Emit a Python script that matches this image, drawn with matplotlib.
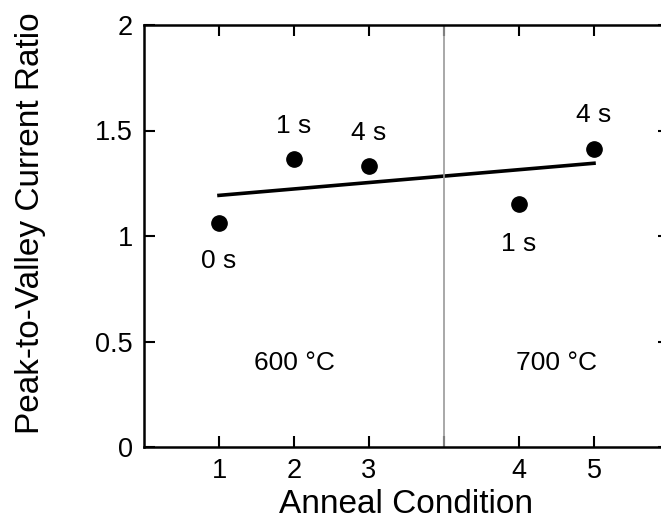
import numpy as np
import matplotlib.pyplot as plt

plt.rcParams['font.family'] = ['Liberation Sans', 'DejaVu Sans']

# anneal conditions (plot position leaves a gap between the two temperatures)
cond_pos = np.array([1, 2, 3, 5, 6])
cond_labels = ["1", "2", "3", "4", "5"]
anneal_time = ["0 s", "1 s", "4 s", "1 s", "4 s"]
pvcr = np.array([1.062, 1.367, 1.333, 1.152, 1.414])
label_y = [0.88, 1.52, 1.486, 0.96, 1.573]

temps = ["600 °C", "700 °C"]
temp_x = [2, 5.5]
temp_y = 0.40

# least squares line through the points
coefs = np.polyfit(cond_pos, pvcr, 1)
fit_x = np.array([cond_pos[0], cond_pos[-1]])

fig = plt.figure(figsize=(6.61, 5.21), dpi=100)
ax = fig.add_axes([144/661, 74/521, 525/661, 422/521])

ax.plot(cond_pos, pvcr, 'o', color='black', markersize=11)
ax.plot(fit_x, np.polyval(coefs, fit_x), color='black', linewidth=2.6)
ax.axvline(4, color='#999999', linewidth=1.2)

for x, y, t in zip(cond_pos, label_y, anneal_time):
    ax.text(x, y, t, fontsize=19, ha='center', va='center')
for x, t in zip(temp_x, temps):
    ax.text(x, temp_y, t, fontsize=19, ha='center', va='center')

ax.set_xlim(0, 7)
ax.set_ylim(0, 2)
ax.set_xticks([1, 2, 3, 4, 5, 6])
ax.set_xticklabels(["1", "2", "3", "", "4", "5"])
ax.set_yticks([0, 0.5, 1, 1.5, 2])
ax.set_yticklabels(["0", "0.5", "1", "1.5", "2"])
ax.tick_params(direction='in', length=8, width=1.5, top=True, right=True,
               labelsize=19.5, pad=8)
for s in ax.spines.values():
    s.set_linewidth(1.8)

ax.set_xlabel("Anneal Condition", fontsize=24)
ax.set_ylabel("Peak-to-Valley Current Ratio", fontsize=24)
ax.xaxis.set_label_coords(0.5, -0.10)
ax.yaxis.set_label_coords(-0.186, 0.531)

fig.savefig("out.png", dpi=100)
